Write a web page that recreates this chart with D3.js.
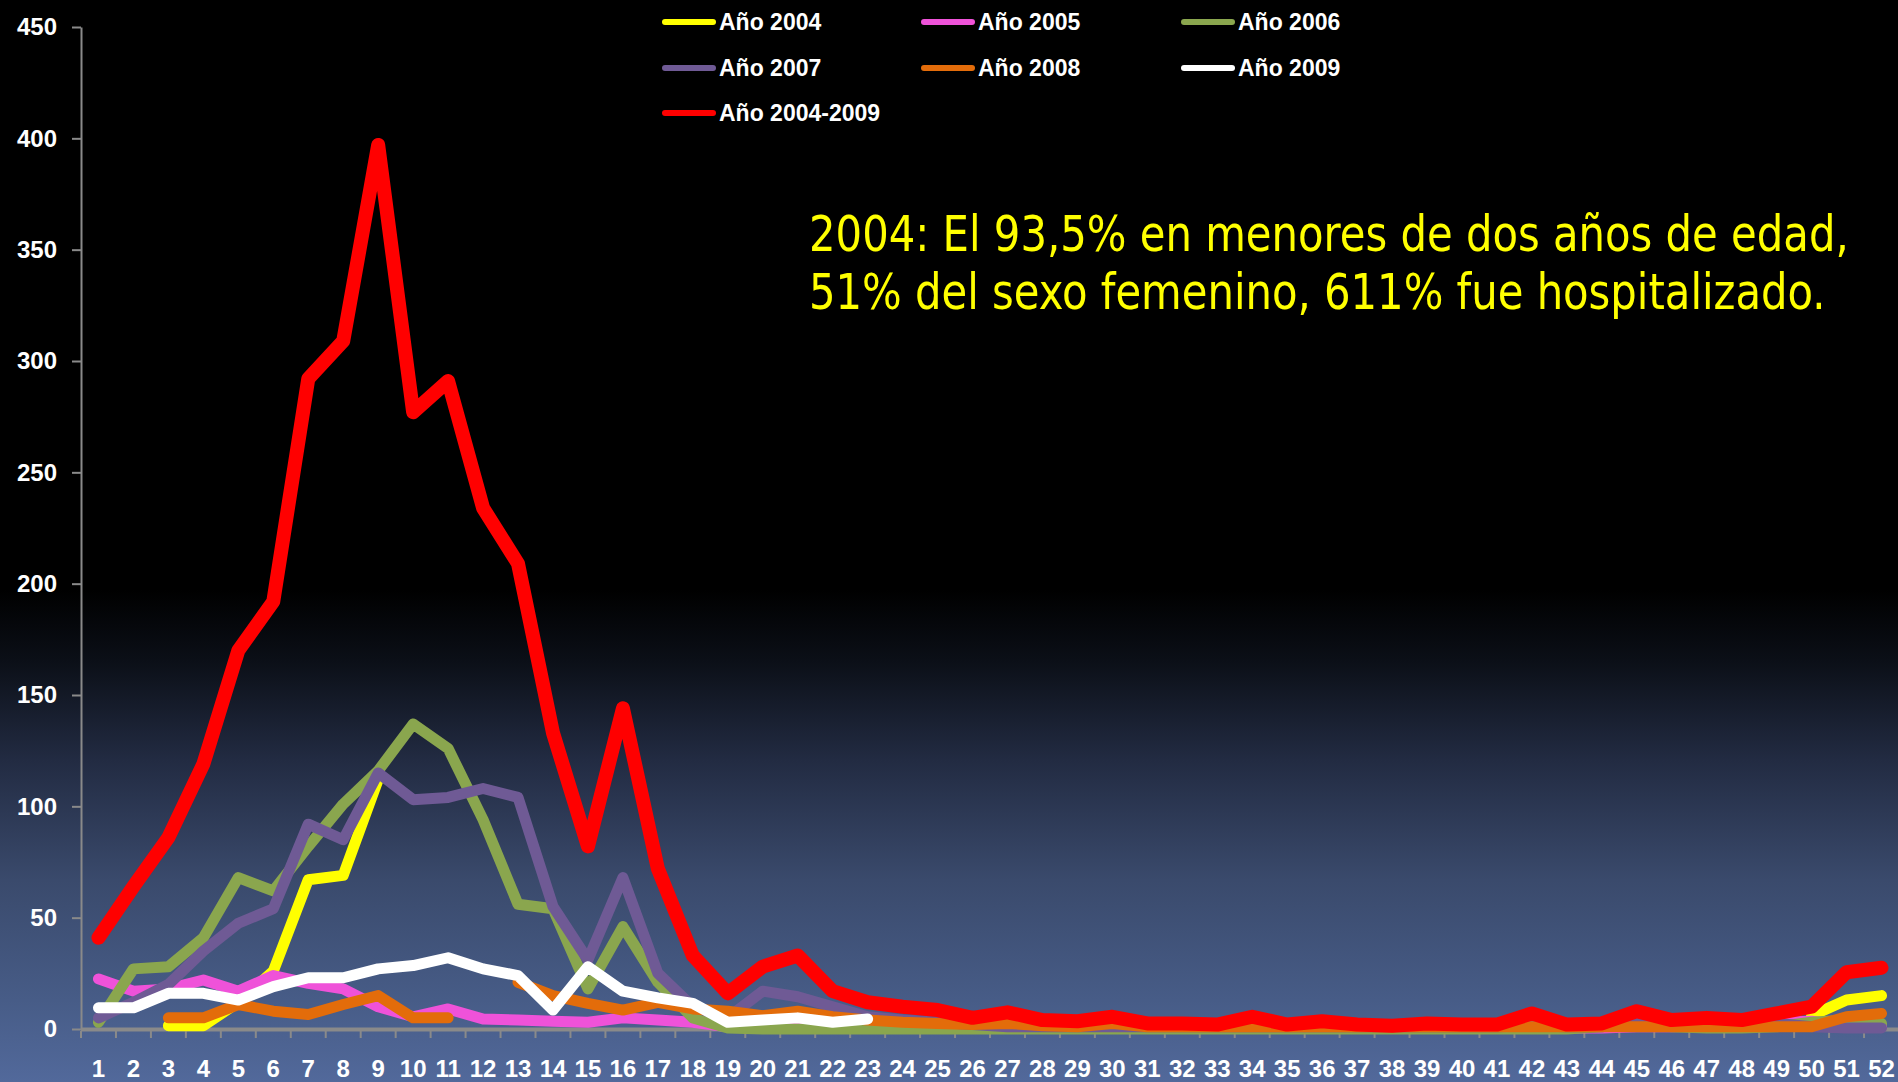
<!DOCTYPE html>
<html>
<head>
<meta charset="utf-8">
<script src="https://cdn.jsdelivr.net/npm/d3@7"></script>
<style>
html,body{margin:0;padding:0;background:#000;overflow:hidden;}
svg{display:block;}
</style>
</head>
<body>
<svg id="chart" width="1898" height="1082"></svg>
<script>
// ---------- DATA ----------
const weeks = d3.range(1, 53);
const yTicks = [0, 50, 100, 150, 200, 250, 300, 350, 400, 450];

const seriesNames  = ["Año 2004", "Año 2005", "Año 2006", "Año 2007", "Año 2008", "Año 2009", "Año 2004-2009"];
const seriesColors = ["#ffff00", "#ef52d9", "#8aa64e", "#6f5a95", "#e36c0a", "#ffffff", "#ff0000"];

const y2004 = [null, null, 1.5, 1.5, 12, 26, 67, 69, 112, null,
  null, null, null, null, null, null, null, null, null, null,
  null, null, null, null, null, null, null, null, null, null,
  null, null, null, null, null, null, null, null, null, null,
  null, null, null, null, null, null, null, null, null, 6,
  13, 15];

const y2005 = [22.5, 17, 18, 22, 17, 24, 20.5, 18, 10, 5.5,
  9, 4.5, 4, 3.5, 3, 5, 4, 3, 1, 0.5,
  0.5, 0.5, 0.5, 0.5, 0.5, 0.5, 0.5, 0.5, 0.5, 0.5,
  0.5, 0.5, 0.5, 0.5, 0.5, 0.5, 0.5, 0.5, 0.5, 0.5,
  0.5, 2, 0.5, 0.5, 1, 1, 1.5, 1, 3, 3.5,
  1.5, 1];

const y2006 = [3, 27, 28, 41, 68, 62, 82, 101, 116, 137,
  126, 94, 56, 54, 18, 46, 21, 5, 0.5, 0,
  0, 0, 0, 0, 0, 0, 0, 0, 0, 0,
  0, 0, 0, 0, 0, 0, 0, 0, 0, 0,
  0, 0, 0, 1, 3, 1, 0.5, 0.5, 1, 3,
  4, 2.5];

const y2007 = [5, 12, 20, 35, 47.5, 54, 92, 85, 115, 103,
  104, 108, 104, 55, 31, 68, 25, 10, 5, 17,
  14.5, 10, 5.5, 4, 3, 2, 1, 1, 1, 1,
  1, 1, 1, 1, 1, 1, 1, 1, 1, 1,
  1, 1.5, 1, 1, 3, 3, 1.5, 2, 2.5, 1,
  0.5, 0.5];

const y2008 = [null, null, 5, 5, 11, 8, 6.5, 11, 15, 5,
  5, null, 21, 15, 11.5, 8.5, 12, 9, 8, 6,
  8, 5.5, 4, 3, 2.5, 2, 2.5, 1.5, 1, 2.5,
  1, 1, 1, 1, 1, 1, 1, 1, 1, 1,
  1, 1, 1, 1, 1, 1, 1, 1, 1, 1,
  5.5, 7];

const y2009 = [9.5, 9.5, 16, 16, 13, 19, 23, 23, 27, 28.5,
  32, 27, 24, 8.5, 28, 17, 14, 11.5, 3, 4,
  5, 3, 4.5, null, null, null, null, null, null, null,
  null, null, null, null, null, null, null, null, null, null,
  null, null, null, null, null, null, null, null, null, null,
  null, null];

const yTotal = [41, 64, 86, 119, 170, 192, 292, 309, 397, 277,
  291, 234, 209, 133, 82, 144, 72, 33, 16, 28,
  33, 17, 12, 10, 8.5, 5, 7.5, 4, 3.5, 5.5,
  2.5, 2.5, 2, 5.5, 2, 3.5, 2, 1.5, 2.5, 2,
  2, 7, 2, 2.5, 8, 4, 5, 4, 7, 10,
  25.5, 27.5];

const seriesValues = [y2004, y2005, y2006, y2007, y2008, y2009, yTotal];

const noteLines = [
  "2004: El 93,5% en menores de dos años de edad,",
  "51% del sexo femenino, 611% fue hospitalizado."
];

// ---------- DRAW ----------
const svg = d3.select("#chart");
const W = 1898, H = 1082;

const defs = svg.append("defs");
const grad = defs.append("linearGradient")
  .attr("id", "bg").attr("gradientUnits", "userSpaceOnUse")
  .attr("x1", 0).attr("y1", 0).attr("x2", 0).attr("y2", H);
[[0, "#000000"], [590, "#000000"], [660, "#0b0f17"], [760, "#222b42"],
 [880, "#3a4a6c"], [1000, "#475c87"], [1082, "#52699b"]].forEach(([o, c]) => {
  grad.append("stop").attr("offset", o / H).attr("stop-color", c);
});
svg.append("rect").attr("width", W).attr("height", H).attr("fill", "url(#bg)");

const x = d3.scaleBand().domain(weeks).range([81, 1899]);
const y = d3.scaleLinear().domain([0, 450]).range([1029, 27]);
const cx = w => x(w) + x.bandwidth() / 2;

const axisFont = "'Liberation Sans', Arial, sans-serif";

// Y axis
const gy = svg.append("g").attr("transform", "translate(81,0)")
  .call(d3.axisLeft(y).tickValues(yTicks).tickSize(9).tickPadding(15).tickSizeOuter(0));
gy.select(".domain").attr("stroke", "#8a8a8a").attr("stroke-width", 2);
gy.selectAll(".tick line").attr("stroke", "#8a8a8a").attr("stroke-width", 2);
gy.selectAll(".tick text").attr("fill", "#ffffff")
  .style("font-family", axisFont).style("font-weight", "bold").style("font-size", "24px");

// X axis
const gx = svg.append("g").attr("transform", `translate(0,${y(0)})`)
  .call(d3.axisBottom(x).tickSize(0).tickPadding(31));
gx.select(".domain").remove();
gx.selectAll(".tick text").attr("fill", "#ffffff")
  .style("font-family", axisFont).style("font-weight", "bold").style("font-size", "24px");
const bounds = weeks.map(w => x(w)).concat([x.range()[1]]);
gx.selectAll("line.bt").data(bounds).enter().append("line").attr("class", "bt")
  .attr("x1", d => d).attr("x2", d => d).attr("y1", 2).attr("y2", 9)
  .attr("stroke", "#8a8a8a").attr("stroke-width", 2);
gx.append("line").attr("x1", x.range()[0]).attr("x2", x.range()[1])
  .attr("y1", 0.5).attr("y2", 0.5).attr("stroke", "#8a8a8a").attr("stroke-width", 4);

// Lines
const line = d3.line()
  .defined(d => d.v !== null && d.v !== undefined)
  .x(d => cx(d.w)).y(d => y(d.v));

seriesValues.forEach((vals, i) => {
  const data = weeks.map((w, k) => ({ w: w, v: vals[k] }));
  svg.append("path").datum(data)
    .attr("d", line)
    .attr("fill", "none")
    .attr("stroke", seriesColors[i])
    .attr("stroke-width", i === 6 ? 14 : 11)
    .attr("stroke-linejoin", "round")
    .attr("stroke-linecap", "round");
});

// Legend
const legCols = [662, 921, 1181];
const legRows = [22, 68, 113];
const leg = svg.append("g");
seriesNames.forEach((name, i) => {
  const lx = legCols[i % 3], ly = legRows[Math.floor(i / 3)];
  leg.append("line").attr("x1", lx + 3).attr("x2", lx + 51).attr("y1", ly).attr("y2", ly)
    .attr("stroke", seriesColors[i]).attr("stroke-width", 6).attr("stroke-linecap", "round");
  leg.append("text").attr("x", lx + 57).attr("y", ly).attr("dy", "0.36em")
    .attr("fill", "#ffffff")
    .style("font-family", axisFont).style("font-weight", "bold").style("font-size", "23px")
    .text(name);
});

// Annotation: natural-width text, horizontally scaled to the reference width
const noteLens = [1040, 1017];
noteLines.forEach((t, i) => {
  const g = svg.append("g");
  const txt = g.append("text").attr("x", 0).attr("y", 0)
    .attr("fill", "#ffff00")
    .style("font-family", "'DejaVu Sans Condensed', 'DejaVu Sans', sans-serif")
    .style("font-stretch", "condensed")
    .style("font-size", "50px")
    .text(t);
  const natural = txt.node().getComputedTextLength();
  const sx = natural > 0 ? noteLens[i] / natural : 1;
  g.attr("transform", `translate(809,${251 + i * 58}) scale(${sx},1)`);
});
</script>
</body>
</html>
